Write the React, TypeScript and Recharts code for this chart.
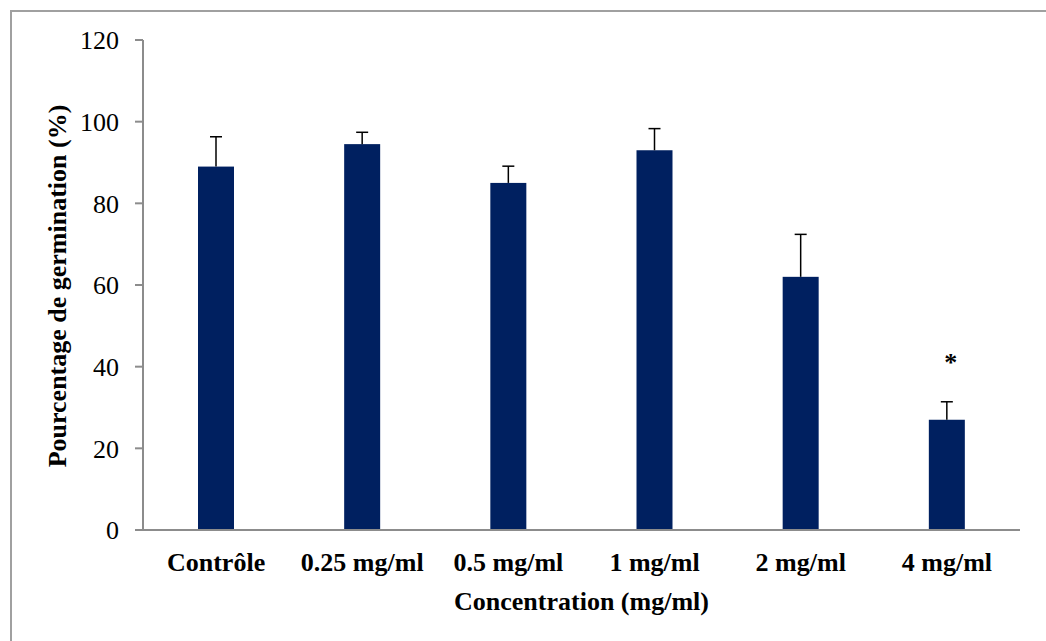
import { Bar, BarChart, Label, XAxis, YAxis } from "recharts";

const categories = ["Contrôle", "0.25 mg/ml", "0.5 mg/ml", "1 mg/ml", "2 mg/ml", "4 mg/ml"];
const germination = [89, 94.5, 85, 93, 62, 27];
const errors = [7.3, 2.9, 4.1, 5.3, 10.4, 4.4];
const significance = ["", "", "", "", "", "*"];
const yTicks = [0, 20, 40, 60, 80, 100, 120];

const data = categories.map((name, i) => ({
	name,
	value: germination[i],
	err: errors[i],
	sig: significance[i],
}));

const font = "'Liberation Serif', 'Times New Roman', serif";
const barColor = "#002060";
const axisColor = "#8c8c8c";

// barre + barre d'erreur (vers le haut uniquement) + astérisque
const BarWithError = (props: any) => {
	const { x, y, width, height, index } = props;
	const v = germination[index];
	const e = errors[index];
	const pxPerUnit = v ? height / v : 0;
	const top = y - e * pxPerUnit;
	const cx = x + width / 2;
	return (
		<g>
			<rect x={x} y={y} width={width} height={height} fill={barColor} />
			<line x1={cx} x2={cx} y1={top} y2={y} stroke="#000" strokeWidth={1.5} />
			<line x1={cx - 6} x2={cx + 6} y1={top} y2={top} stroke="#000" strokeWidth={1.5} />
			{significance[index] && (
				<text
					x={cx + 4}
					y={top - 31}
					textAnchor="middle"
					fontFamily={font}
					fontWeight="bold"
					fontSize={26}
					fill="#000"
				>
					{significance[index]}
				</text>
			)}
		</g>
	);
};

const YTitle = () => (
	<text
		x={66}
		y={286}
		transform="rotate(-90, 66, 286)"
		textAnchor="middle"
		fontFamily={font}
		fontWeight="bold"
		fontSize={26}
		fill="#000"
	>
		Pourcentage de germination (%)
	</text>
);

export default function App() {
	return (
		<div style={{ position: "relative", width: 1046, height: 641, overflow: "hidden", background: "#fff" }}>
			<style>{"body{margin:0}"}</style>
			<div
				style={{
					position: "absolute",
					left: 10,
					top: 10,
					width: 1100,
					height: 700,
					borderTop: "2px solid #a0a0a0",
					borderLeft: "2px solid #a0a0a0",
				}}
			/>
			<div style={{ position: "absolute", left: 0, top: 0 }}>
				<BarChart
					width={1046}
					height={641}
					data={data}
					margin={{ top: 40, right: 26, bottom: 0, left: 0 }}
					barSize={36}
				>
					<XAxis
						dataKey="name"
						height={111}
						axisLine={{ stroke: axisColor, strokeWidth: 2 }}
						tickLine={false}
						tickSize={0}
						tickMargin={23}
						tick={{ fontFamily: font, fontWeight: "bold", fontSize: 26, fill: "#000" }}
						interval={0}
					>
						<Label
							value="Concentration (mg/ml)"
							position="insideBottom"
							offset={31}
							style={{ fontFamily: font, fontWeight: "bold", fontSize: 26, fill: "#000" }}
						/>
					</XAxis>
					<YAxis
						width={143}
						domain={[0, 120]}
						ticks={yTicks}
						interval={0}
						axisLine={{ stroke: axisColor, strokeWidth: 2 }}
						tickLine={{ stroke: axisColor, strokeWidth: 2 }}
						tickSize={8}
						tickMargin={16}
						tick={{ fontFamily: font, fontSize: 26, fill: "#000" }}
					>
						<Label content={<YTitle />} />
					</YAxis>
					<Bar dataKey="value" shape={<BarWithError />} isAnimationActive={false} />
				</BarChart>
			</div>
		</div>
	);
}
